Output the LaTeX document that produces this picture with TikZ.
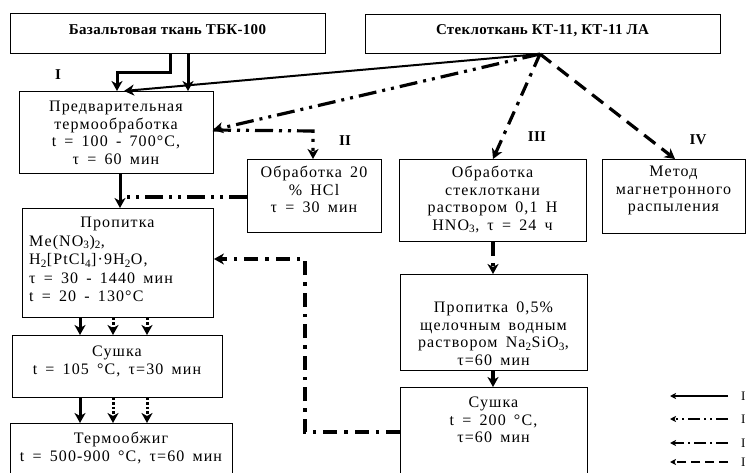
\documentclass[tikz,border=0pt]{standalone}
\usepackage{fontspec}
\setmainfont{Liberation Serif}[LetterSpace=7,WordSpace=1.6]
\newfontfamily\ttlfont{Liberation Serif}[LetterSpace=2]
\usetikzlibrary{arrows.meta}
\tikzset{
  box/.style={draw, line width=0.9pt, anchor=north west, inner sep=0pt},
  txt/.style={align=center, inner sep=0pt, anchor=north, font=\fontsize{16}{17.5}\selectfont},
  txtl/.style={align=left, inner sep=0pt, anchor=north west, font=\fontsize{16}{18.5}\selectfont},
  ttl/.style={inner sep=0pt, font=\ttlfont\bfseries\fontsize{15}{17}\selectfont},
  rom/.style={inner sep=0pt, font=\ttlfont\bfseries\fontsize{15}{17}\selectfont},
  head/.style={-{Stealth[length=10pt,width=11pt,inset=3pt]}},
  smallhead/.style={-{Stealth[length=6pt,width=6pt,inset=1.5pt]}},
  solidline/.style={line width=3pt},
  thinsolid/.style={line width=2pt},
  ddotline/.style={line width=3.2pt, dash pattern=on 18pt off 6pt on 3pt off 6pt on 3pt off 6pt},
  dotline/.style={line width=3.2pt, dash pattern=on 14pt off 7pt on 3.5pt off 7pt},
  dashline/.style={line width=3.2pt, dash pattern=on 14pt off 8pt},
  shortdot/.style={line width=3pt, dash pattern=on 2.5pt off 2pt},
  legtxt/.style={anchor=west, inner sep=0pt, font=\ttlfont\fontsize{13}{15}\selectfont},
}
\begin{document}
\begin{tikzpicture}[x=1pt,y=-1pt]
\useasboundingbox (0,0) rectangle (746,473);
\fill[white] (0,0) rectangle (746,473);

% boxes
\node[box, minimum width=315pt, minimum height=40pt] (A) at (10,13) {};
\node[box, minimum width=355pt, minimum height=39pt] (B) at (365,14) {};
\node[box, minimum width=194pt, minimum height=82pt] (C) at (19,91) {};
\node[box, minimum width=134pt, minimum height=73pt] (D) at (247,159) {};
\node[box, minimum width=187pt, minimum height=82pt] (E) at (399,159) {};
\node[box, minimum width=143pt, minimum height=74pt] (F) at (602,159) {};
\node[box, minimum width=191pt, minimum height=109pt] (G) at (22,208) {};
\node[box, minimum width=210pt, minimum height=62pt] (H) at (12,335) {};
\node[box, minimum width=222pt, minimum height=70pt] (I) at (10,423) {};
\node[box, minimum width=187pt, minimum height=96pt] (J) at (400,274) {};
\node[box, minimum width=187pt, minimum height=100pt] (K) at (400,387) {};

% texts
\node[ttl] (tA) at (167.5,30) {Базальтовая ткань ТБК-100};
\node[ttl] (tB) at (542.5,31) {Стеклоткань КТ-11, КТ-11 ЛА};
\node[txt] (tC) at (116,101) {Предварительная\\термообработка\\t = 100 - 700°C,\\τ = 60 мин};
\node[txt] (tD) at (314,166) {Обработка 20\\\% HCl\\τ = 30 мин};
\node[txt] (tE) at (492.5,166) {Обработка\\стеклоткани\\раствором 0,1 Н\\HNO\textsubscript{3}, τ = 24 ч};
\node[txt] (tF) at (673.5,166) {Метод\\магнетронного\\распыления};
\node[txt] (tG) at (117.5,217) {Пропитка};
\node[txtl] (tG2) at (29,235) {Me(NO\textsubscript{3})\textsubscript{2},\\H\textsubscript{2}[PtCl\textsubscript{4}]·9H\textsubscript{2}O,\\τ = 30 - 1440 мин\\t = 20 - 130°C};
\node[txt] (tH) at (117,346) {Сушка\\t = 105 °C, τ=30 мин};
\node[txt] (tI) at (121,432) {Термообжиг\\t = 500-900 °C, τ=60 мин};
\node[txt] (tJ) at (493.5,302) {Пропитка 0,5\%\\щелочным водным\\раствором Na\textsubscript{2}SiO\textsubscript{3},\\τ=60 мин};
\node[txt] (tK) at (493.5,397) {Сушка\\t = 200 °C,\\τ=60 мин};

% roman labels
\node[rom] (r1) at (58,75) {I};
\node[rom] (r2) at (345,141) {II};
\node[rom] (r3) at (537,137) {III};
\node[rom] (r4) at (698,140) {IV};

% helper coordinates
\coordinate (bs) at (540,54);
\coordinate (a1) at (170,73);
\coordinate (a2) at (117,73);
\coordinate (c2) at (213,130);
\coordinate (c3) at (313,131);
\coordinate (j1) at (124,197);
\coordinate (k1) at (305,432);
\coordinate (k2) at (305,259);

% route I
\draw[solidline, head] (A.south -| a1) -- (a1) -- (a2) -- (C.north -| a2);
\draw[solidline, head] (A.south -| 188,0) -- (C.north -| 188,0);
\draw[thinsolid, head] (bs) -- (C.north -| 124,0);
\draw[solidline, head] (C.south -| 120,0) -- (G.north -| 120,0);

% route II
\draw[ddotline, head] (bs) -- (c2);
\draw[ddotline, head] (c2) -- (c3) -- (D.north -| c3);
\draw[ddotline] (D.west |- j1) -- (j1);

% route III
\draw[dotline, head] (bs) -- (E.north -| 493,0);
\draw[dotline, head] (E.south -| 493,0) -- (J.north -| 493,0);
\draw[dotline, head] (J.south -| 493,0) -- (K.north -| 493,0);
\draw[dotline, head] (K.west |- k1) -- (k1) -- (k2) -- (G.east |- k2);

% route IV
\draw[dashline, head] (bs) -- (F.north -| 675,0);

% G -> H -> I
\draw[solidline, head] (G.south -| 80,0) -- (H.north -| 80,0);
\draw[shortdot, head] (G.south -| 113,0) -- (H.north -| 113,0);
\draw[shortdot, head] (G.south -| 147,0) -- (H.north -| 147,0);
\draw[solidline, head] (H.south -| 80,0) -- (I.north -| 80,0);
\draw[shortdot, head] (H.south -| 113,0) -- (I.north -| 113,0);
\draw[shortdot, head] (H.south -| 147,0) -- (I.north -| 147,0);

% legend
\coordinate (l1e) at (670,396);
\coordinate (l2e) at (670,419);
\coordinate (l3e) at (670,443);
\coordinate (l4e) at (670,462);
\node[legtxt] (L1) at (741,396) {I};
\node[legtxt] (L2) at (741,419) {II};
\node[legtxt] (L3) at (741,443) {III};
\node[legtxt] (L4) at (741,462) {IV};
\draw[line width=1.5pt, smallhead] (728,396) -- (l1e);
\draw[line width=1.8pt, smallhead, dash pattern=on 12pt off 4pt on 2pt off 4pt on 2pt off 4pt] (728,419) -- (l2e);
\draw[line width=1.8pt, smallhead, dash pattern=on 12pt off 4pt on 2pt off 4pt] (728,443) -- (l3e);
\draw[line width=1.8pt, smallhead, dash pattern=on 9pt off 5pt] (728,462) -- (l4e);
\end{tikzpicture}
\end{document}
